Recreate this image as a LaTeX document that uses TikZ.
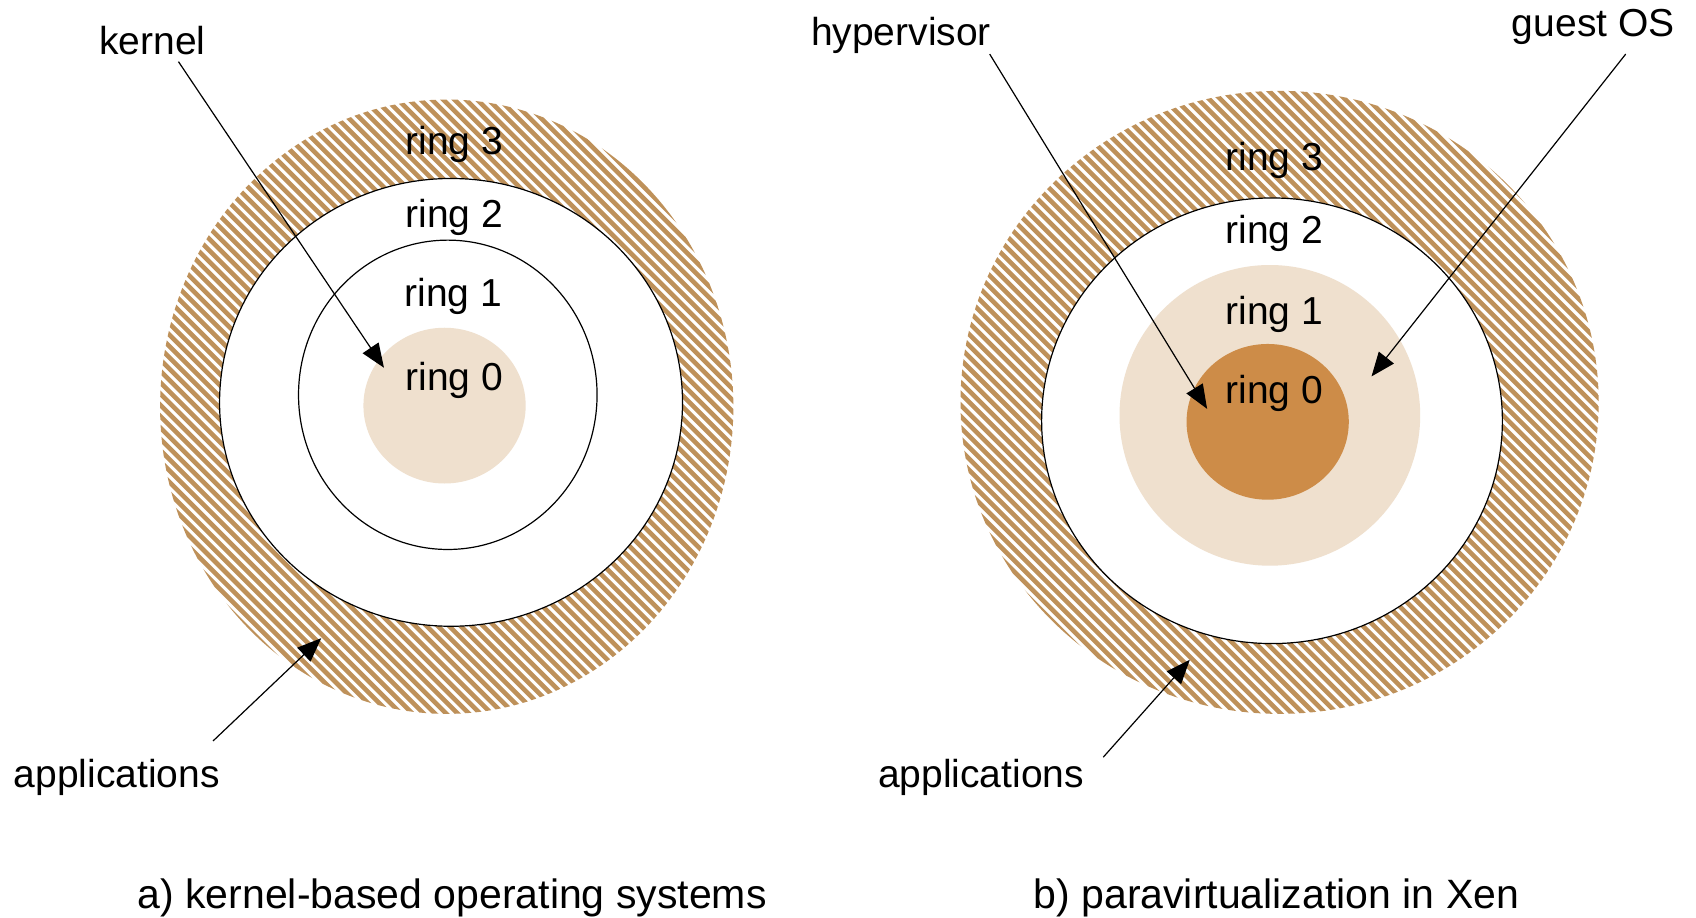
\documentclass[tikz,border=0pt]{standalone}
\usepackage{fontspec}
\setmainfont{Liberation Sans}
\usetikzlibrary{arrows.meta}
\definecolor{hatchbrown}{RGB}{190,145,90}
\definecolor{lightbeige}{RGB}{239,224,206}
\definecolor{darkochre}{RGB}{205,140,72}
\begin{document}
\begin{tikzpicture}[x=0.5408pt,y=-0.5408pt,
  lbl/.style={inner sep=0pt,anchor=base,font=\fontsize{19.5pt}{22pt}\selectfont},
  caption/.style={inner sep=0pt,anchor=base,font=\fontsize{20.5pt}{23pt}\selectfont},
  stripe/.style={draw=hatchbrown,line width=2.3pt},
  ringline/.style={draw=black,line width=0.6pt},
  pointer/.style={draw=black,line width=0.6pt,-{Triangle[length=12pt,width=9.5pt]}}]
\useasboundingbox (0,0) rectangle (1568,848);

% ---------- left diagram ----------
\begin{scope}
  \clip (413,376) ellipse [x radius=265, y radius=284];
  \foreach \k in {0,...,115} {
    \draw[stripe] ({-460+\k*10.46},80) -- ({-460+\k*10.46+620},700);
  }
\end{scope}
\path[ringline,fill=white] (417,372) ellipse [x radius=214, y radius=207];
\path[ringline] (414,365) ellipse [x radius=138, y radius=143];
\fill[lightbeige] (411,375) ellipse [x radius=75, y radius=72];

\node[lbl] (l3) at (420,143) {ring 3};
\node[lbl] (l2) at (420,210) {ring 2};
\node[lbl] (l1) at (419,283) {ring 1};
\node[lbl] (l0) at (420,361) {ring 0};
\node[lbl] (kernel) at (141,50) {kernel};
\node[lbl] (appl) at (108,728) {applications};
\node[caption] (capa) at (418,840) {a) kernel-based operating systems};

\coordinate (kt) at (165,57);
\coordinate (kh) at (355,340);
\coordinate (at) at (197,685);
\coordinate (ah) at (297,590);
\draw[pointer] (kt) -- (kh);
\draw[pointer] (at) -- (ah);

% ---------- right diagram ----------
\begin{scope}
  \clip (1183,372) ellipse [x radius=295, y radius=288];
  \foreach \k in {0,...,125} {
    \draw[stripe] ({270+\k*10.46},70) -- ({270+\k*10.46+620},690);
  }
\end{scope}
\path[ringline,fill=white] (1176,389) ellipse [x radius=213, y radius=206];
\fill[lightbeige] (1174,384) ellipse [x radius=139, y radius=139];
\fill[darkochre] (1172,390) ellipse [x radius=75, y radius=72];

\node[lbl] (r3) at (1178,158) {ring 3};
\node[lbl] (r2) at (1178,225) {ring 2};
\node[lbl] (r1) at (1178,300) {ring 1};
\node[lbl] (r0) at (1178,373) {ring 0};
\node[lbl] (hyp) at (833,42) {hypervisor};
\node[lbl] (guest) at (1473,34) {guest OS};
\node[lbl] (appr) at (907,728) {applications};
\node[caption] (capb) at (1180,840) {b) paravirtualization in Xen};

\coordinate (ht) at (915,50);
\coordinate (hh) at (1116,378);
\coordinate (gt) at (1503,50);
\coordinate (gh) at (1268,348);
\coordinate (bt) at (1020,700);
\coordinate (bh) at (1100,610);
\draw[pointer] (ht) -- (hh);
\draw[pointer] (gt) -- (gh);
\draw[pointer] (bt) -- (bh);
\end{tikzpicture}
\end{document}
